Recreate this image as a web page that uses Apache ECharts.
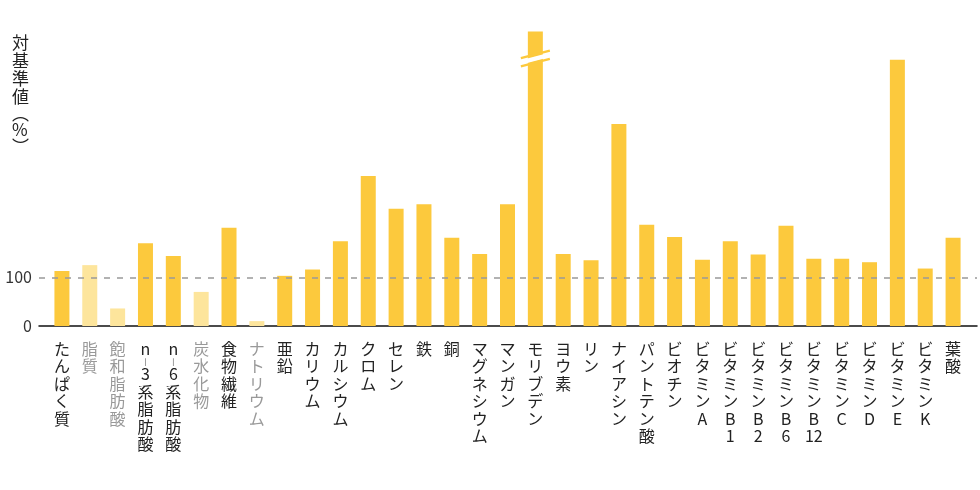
<!DOCTYPE html>
<html>
<head>
<meta charset="utf-8">
<script src="https://cdn.jsdelivr.net/npm/echarts@6/dist/echarts.min.js"></script>
<style>
  html, body { margin: 0; padding: 0; background: #fff; }
  #chart { width: 980px; height: 490px; }
</style>
</head>
<body>
<div id="chart"></div>
<script>
// 栄養素ごとの対基準値(%)
var categories = ['たんぱく質', '脂質', '飽和脂肪酸', 'n-3系脂肪酸', 'n-6系脂肪酸', '炭水化物', '食物繊維', 'ナトリウム',
  '亜鉛', 'カリウム', 'カルシウム', 'クロム', 'セレン', '鉄', '銅', 'マグネシウム', 'マンガン', 'モリブデン',
  'ヨウ素', 'リン', 'ナイアシン', 'パントテン酸', 'ビオチン', 'ビタミンA', 'ビタミンB1', 'ビタミンB2',
  'ビタミンB6', 'ビタミンB12', 'ビタミンC', 'ビタミンD', 'ビタミンE', 'ビタミンK', '葉酸'];
var values = [113, 125, 36, 170, 144, 70, 202, 10,
  103, 116, 174, 308, 241, 250, 181, 148, 250, 605,
  148, 135, 415, 208, 183, 136, 174, 147,
  206, 138, 138, 131, 547, 118, 181];
// 薄い色で描く項目
var paleCategories = ['脂質', '飽和脂肪酸', '炭水化物', 'ナトリウム'];
// 上限を超えて途中を省略する項目
var brokenCategories = ['モリブデン'];
var yTicks = [0, 100];
var refValue = 100;
var yMax = 605;

var strong = '#FCC93D';
var pale = '#FDE59C';
var font = '"Noto Sans CJK JP", "Noto Sans", sans-serif';

// 縦書き用に1文字ずつ改行（数字の連続はまとめる）
function vertical(s) {
  return s.match(/\d+|./g).map(function (c) {
    if (c === '-') return '{h||}';
    if (c === '(') return '{p|︵}';
    if (c === ')') return '{p|︶}';
    return c;
  }).join('\n');
}

var myChart = echarts.init(document.getElementById('chart'));

var option = {
  animation: false,
  title: {
    text: vertical('対基準値(%)'),
    left: 7,
    top: 29,
    textStyle: {
      fontFamily: font, fontSize: 17, fontWeight: 'normal', color: '#222', lineHeight: 18,
      rich: { p: { fontSize: 17, lineHeight: 15, color: '#222', fontFamily: font } }
    }
  },
  grid: [
    { left: 39, right: 3, top: 31.4, bottom: 164 },
    { left: 48, right: 13, top: 31.4, bottom: 164 }
  ],
  xAxis: [
    {
      gridIndex: 0, type: 'value', min: 0, max: 1,
      axisLine: { show: true, lineStyle: { color: '#111', width: 1.5 } },
      axisTick: { show: false }, axisLabel: { show: false }, splitLine: { show: false }
    },
    {
      gridIndex: 1, type: 'category', data: categories,
      axisLine: { show: false }, axisTick: { show: false },
      axisLabel: {
        interval: 0, margin: 14,
        fontFamily: font, fontSize: 16, lineHeight: 17.5,
        color: function (v) { return paleCategories.indexOf(v) >= 0 ? '#999' : '#222'; },
        formatter: vertical,
        rich: { h: { fontSize: 7, lineHeight: 8, color: '#222', fontFamily: font } }
      }
    }
  ],
  yAxis: [
    {
      gridIndex: 0, type: 'value', min: 0, max: yMax,
      axisLine: { show: false }, axisTick: { show: false }, splitLine: { show: false },
      axisLabel: { customValues: yTicks, margin: 7, fontFamily: font, fontSize: 16, color: '#333' }
    },
    {
      gridIndex: 1, type: 'value', min: 0, max: yMax, show: false
    }
  ],
  series: [
    {
      type: 'bar',
      xAxisIndex: 1, yAxisIndex: 1,
      barWidth: 15,
      data: values.map(function (v, i) {
        return { value: v, itemStyle: { color: paleCategories.indexOf(categories[i]) >= 0 ? pale : strong } };
      })
    },
    {
      type: 'line',
      xAxisIndex: 0, yAxisIndex: 0,
      data: [],
      silent: true,
      z: 5,
      markLine: {
        silent: true, symbol: 'none', label: { show: false },
        lineStyle: { color: '#999', type: [6, 7], width: 1.5 },
        data: [{ yAxis: refValue }]
      }
    }
  ]
};

myChart.setOption(option);

// 省略記号（白い斜めの切れ目）
var graphics = [];
brokenCategories.forEach(function (name) {
  var i = categories.indexOf(name);
  var p = myChart.convertToPixel({ xAxisIndex: 1, yAxisIndex: 1 }, [i, values[i]]);
  var cx = p[0], ty = p[1];
  var k = 0.26;
  graphics.push({
    type: 'polygon', z: 10,
    shape: { points: [[cx - 9, ty + 25 + 9 * k], [cx + 9, ty + 25 - 9 * k], [cx + 9, ty + 29.5 - 9 * k], [cx - 9, ty + 29.5 + 9 * k]] },
    style: { fill: '#fff' }
  });
  [23, 31.2].forEach(function (off) {
    graphics.push({
      type: 'line', z: 11,
      shape: { x1: cx - 14.5, y1: ty + off + 14.5 * k, x2: cx + 14.5, y2: ty + off - 14.5 * k },
      style: { stroke: strong, lineWidth: 2.4 }
    });
  });
});
myChart.setOption({ graphic: graphics });
</script>
</body>
</html>
